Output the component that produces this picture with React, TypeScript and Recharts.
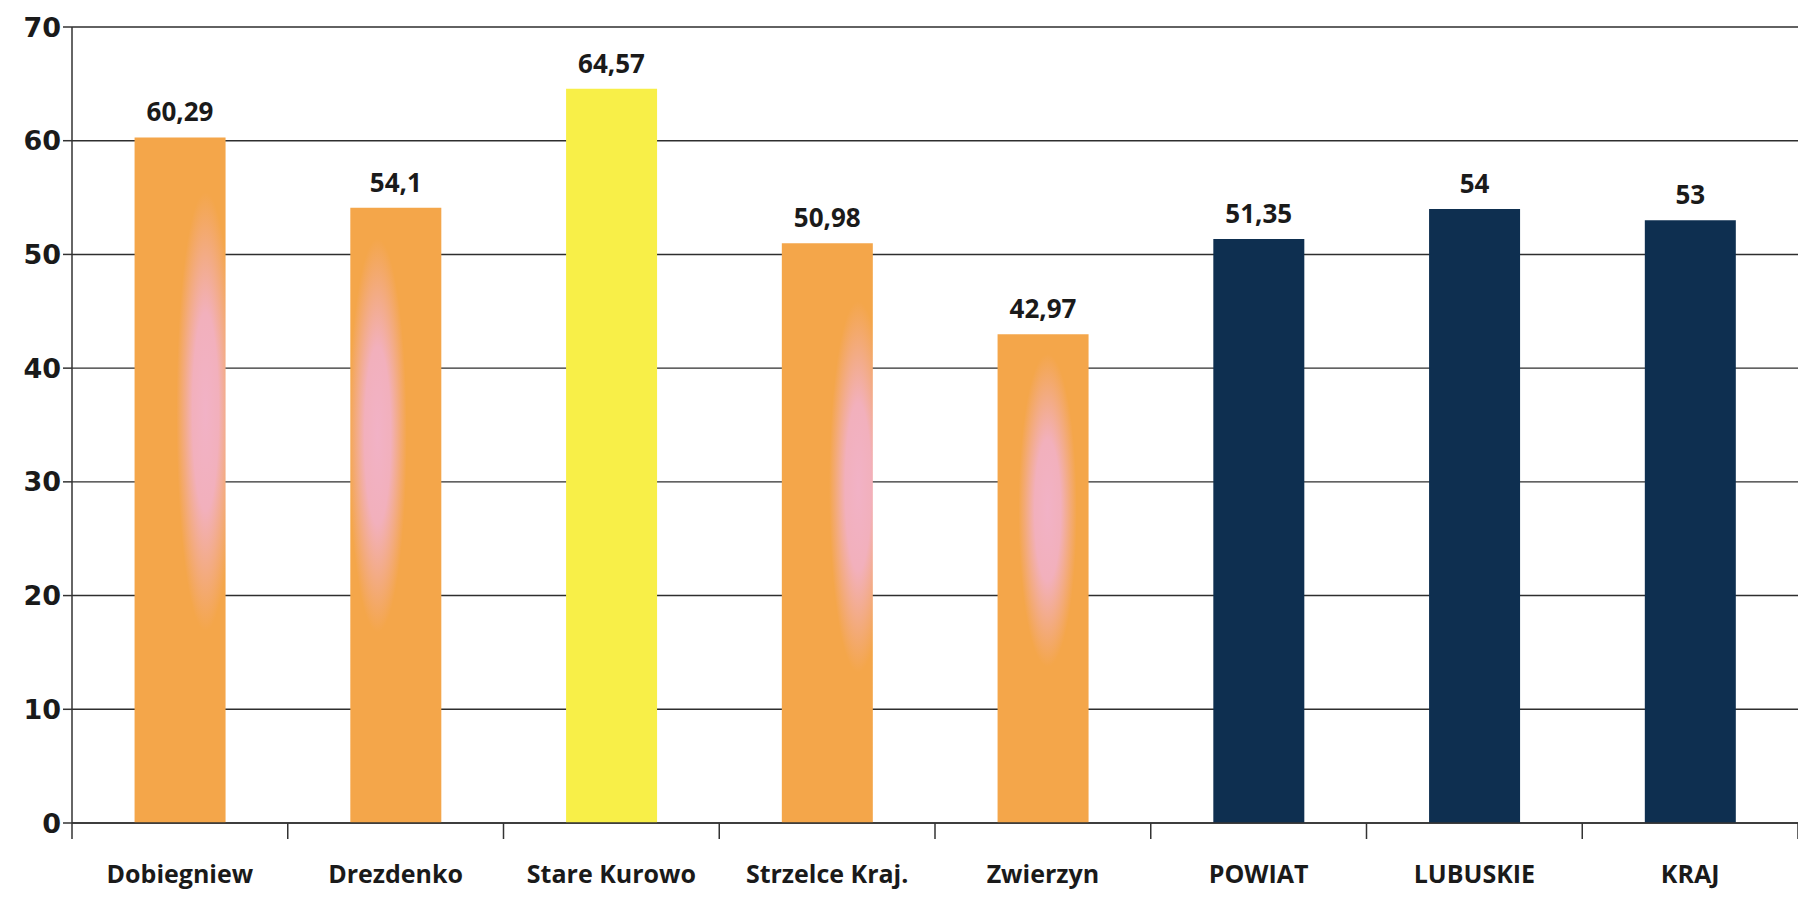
import React from "react";
import { BarChart, Bar, XAxis, YAxis, CartesianGrid, Cell, LabelList } from "recharts";

const categories = ["Dobiegniew", "Drezdenko", "Stare Kurowo", "Strzelce Kraj.", "Zwierzyn", "POWIAT", "LUBUSKIE", "KRAJ"];
const values = [60.29, 54.1, 64.57, 50.98, 42.97, 51.35, 54, 53];
const barColors = ["#F4A64A", "#F4A64A", "#F8EF48", "#F4A64A", "#F4A64A", "#0E2F50", "#0E2F50", "#0E2F50"];
const yTicks = [0, 10, 20, 30, 40, 50, 60, 70];

// scan tint (pinkish blotch) on the orange bars: [cx, cy] in bar box units, null = none
const tintSpots: ([number, number] | null)[] = [[0.78, 0.4], [0.3, 0.37], null, [0.84, 0.42], [0.55, 0.36], null, null, null];

const data = categories.map((name, i) => ({ name, value: values[i] }));

const fmt = (v: number) => String(v).replace(".", ",");

const CatTick = (props: any) => {
  const { x, y, payload, index, width } = props;
  const band = (width || 1726) / categories.length;
  const left = x - band / 2;
  return (
    <g>
      <line x1={left} y1={y - 8} x2={left} y2={y + 8} stroke="#333" strokeWidth={1.5} />
      {index === categories.length - 1 && (
        <line x1={left + band} y1={y - 8} x2={left + band} y2={y + 8} stroke="#333" strokeWidth={1.5} />
      )}
      <text x={x} y={y + 52} textAnchor="middle" fontFamily="'Open Sans', sans-serif" fontWeight={700} fontSize={25} fill="#1a1a1a">
        {payload.value}
      </text>
    </g>
  );
};

export default function App() {
  return (
    <div style={{ width: 1790, height: 891, background: "#fff" }}>
      <BarChart width={1790} height={891} data={data} margin={{ top: 19, right: 0, left: 0, bottom: 0 }} barCategoryGap="29%">
        <defs>
          {tintSpots.map((s, i) =>
            s ? (
              <radialGradient key={i} id={`tint${i}`} cx={s[0]} cy={s[1]} r={0.32}>
                <stop offset="0%" stopColor="#F2B2C6" />
                <stop offset="45%" stopColor="#F2B0BC" />
                <stop offset="100%" stopColor={barColors[i]} />
              </radialGradient>
            ) : null
          )}
        </defs>
        <CartesianGrid vertical={false} stroke="#2e2e2e" strokeWidth={1.4} />
        <XAxis
          dataKey="name"
          tick={<CatTick />}
          tickLine={false}
          axisLine={{ stroke: "#333", strokeWidth: 1.5 }}
          height={76}
          interval={0}
        />
        <YAxis
          domain={[0, 70]}
          ticks={yTicks}
          width={64}
          axisLine={{ stroke: "#333", strokeWidth: 1.5 }}
          tickLine={{ stroke: "#333", strokeWidth: 1.5 }}
          tickSize={9}
          tick={{ fontFamily: "'DejaVu Sans', sans-serif", fontWeight: 700, fontSize: 27, fill: "#1a1a1a" }}
        />
        <Bar dataKey="value" isAnimationActive={false}>
          {data.map((d, i) => (
            <Cell key={d.name} fill={tintSpots[i] ? `url(#tint${i})` : barColors[i]} />
          ))}
          <LabelList
            dataKey="value"
            position="top"
            offset={16}
            formatter={(v: any) => fmt(v)}
            style={{ fontFamily: "'Open Sans', sans-serif", fontWeight: 700, fontSize: 26, fill: "#1a1a1a" }}
          />
        </Bar>
      </BarChart>
    </div>
  );
}
